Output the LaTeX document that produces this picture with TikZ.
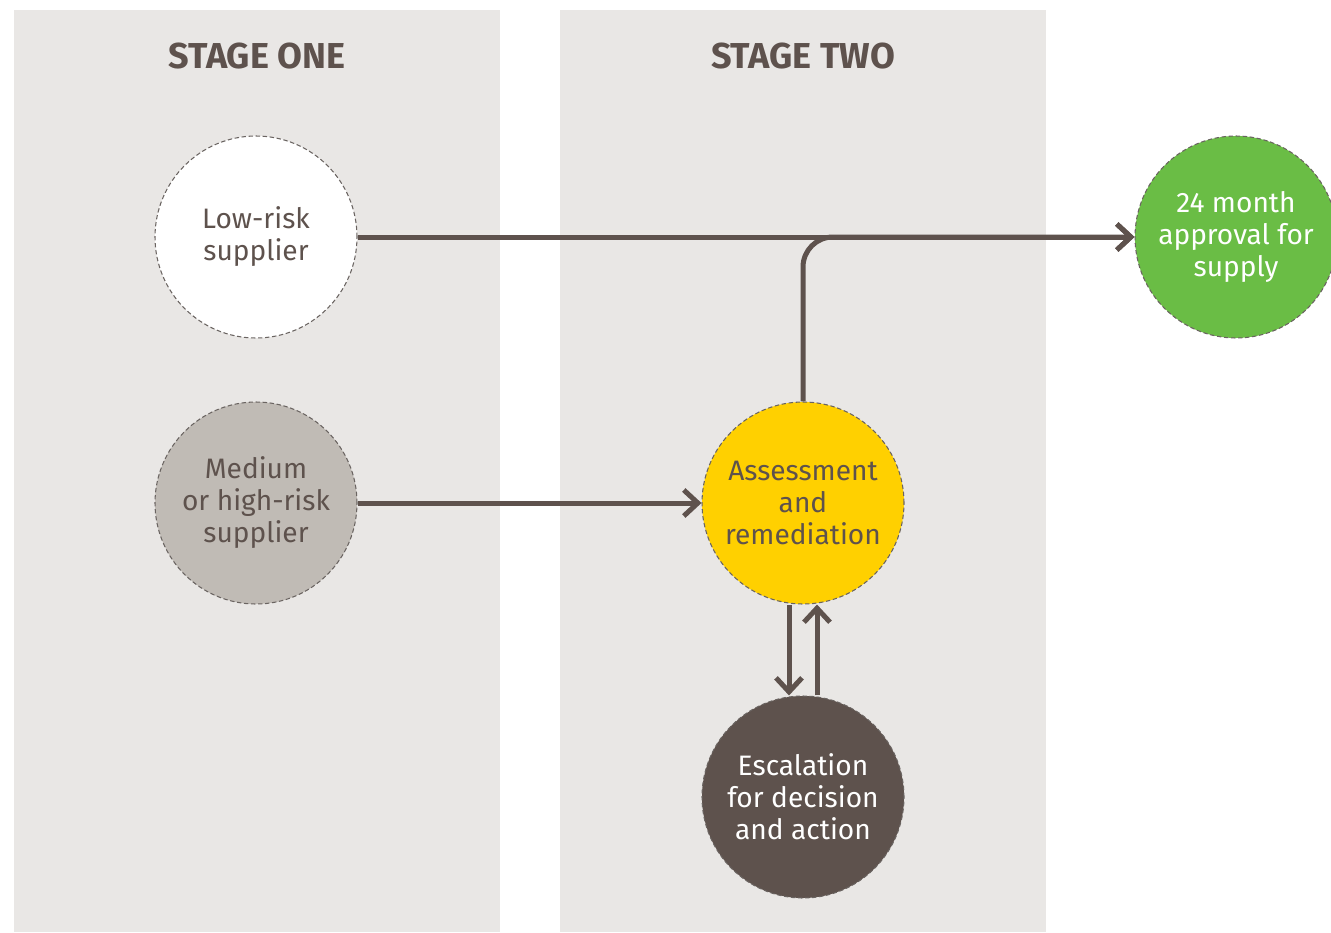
\documentclass[tikz,border=0pt]{standalone}
\usepackage{fontspec}
\setmainfont{Fira Sans}
\usetikzlibrary{arrows.meta}
\definecolor{panel}{HTML}{E9E7E5}
\definecolor{ink}{HTML}{5E524D}
\definecolor{rim}{HTML}{6A6461}
\definecolor{stone}{HTML}{C0BBB5}
\definecolor{sun}{HTML}{FFD000}
\definecolor{leaf}{HTML}{6ABD45}
\begin{document}
\begin{tikzpicture}[
        stage/.style={font=\fontsize{20.5}{22}\selectfont\bfseries, text=ink},
        blob/.style={circle, minimum size=4.04cm, draw=rim, line width=0.6pt,
          dash pattern=on 2.5pt off 1.5pt, align=center, text=ink,
          font=\fontsize{16}{18.2}\selectfont},
        flow/.style={draw=ink, line width=0.1cm,
          -{Straight Barb[length=0.28cm, width=0.52cm]}}]
        \useasboundingbox (0,0) rectangle (26.62,-18.64);
        \fill[panel] (0.28,-0.2) rectangle (10.0,-18.64);
        \fill[panel] (11.2,-0.2) rectangle (20.92,-18.64);
        \node[stage] (one) at (5.14,-1.12) {STAGE ONE};
        \node[stage] (two) at (16.06,-1.12) {STAGE TWO};
        \node[blob, fill=white] (low) at (5.12,-4.74) {Low-risk\\supplier};
        \node[blob, fill=stone] (high) at (5.12,-10.06) {Medium\\or high-risk\\supplier};
        \node[blob, fill=sun] (assess) at (16.06,-10.06) {Assessment\\and\\remediation};
        \node[blob, fill=ink, text=white] (escal) at (16.06,-15.94) {Escalation\\for decision\\and action};
        \node[blob, fill=leaf, text=white] (approve) at (24.72,-4.74) {24 month\\approval for\\supply};
        \draw[flow, rounded corners=0.6cm] (assess.north) |- (approve.west);
        \draw[flow] (low.east) -- (approve.west);
        \draw[flow] (high.east) -- (assess.west);
        \draw[flow] ([xshift=-0.28cm]assess.south) -- ([xshift=-0.28cm]escal.north);
        \draw[flow] ([xshift=0.28cm]escal.north) -- ([xshift=0.28cm]assess.south);
\end{tikzpicture}
\end{document}
